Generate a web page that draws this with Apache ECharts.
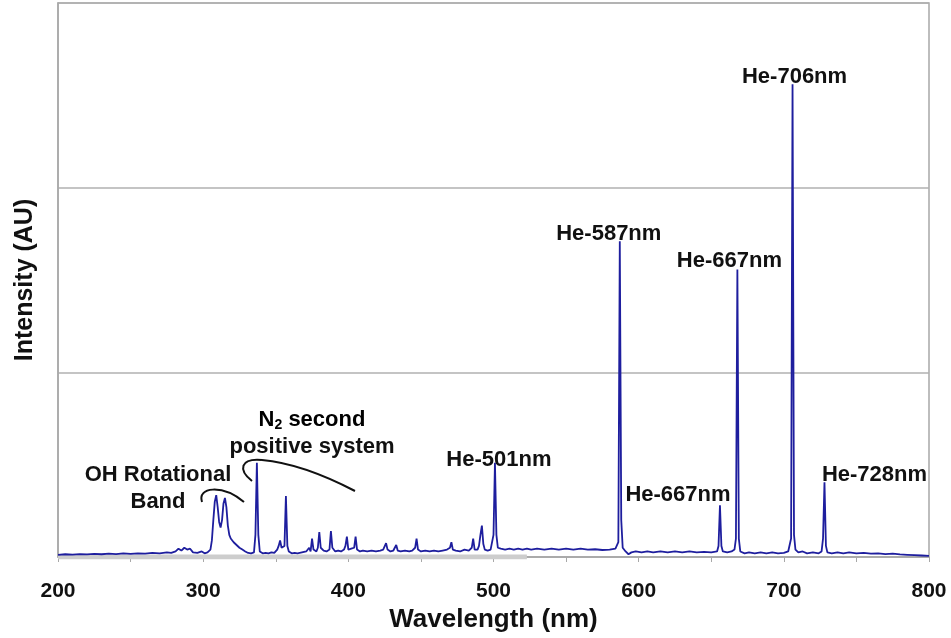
<!DOCTYPE html>
<html>
<head>
<meta charset="utf-8">
<script src="https://cdn.jsdelivr.net/npm/echarts/dist/echarts.min.js"></script>
<style>
html,body{margin:0;padding:0;background:#fff;}
#main{width:951px;height:638px;}
</style>
</head>
<body>
<div id="main"></div>
<script>
// spectrum (intensity: 1 = one grid band)
var wavelength = [200,205,210,215,220,225,230,235,240,245,250,255,260,265,270,275,278,281,283,285,287,289,291,293,296,299,301,303,305,
  306,307,308,309,310,311,312,313,314,315,316,317,318,319,321,323,325,327,329,331,333,335,336,337,338,339,341,343,345,347,349,
  351,352,353,354,355,356,357,358,359,361,363,365,368,371,373,374,375,376,378,379,380,381,383,385,387,388,389,391,393,395,397,
  398,399,400,401,402,403,404,405,406,408,410,413,416,419,422,424,426,427,429,431,433,434,436,439,442,444,446,447,448,450,453,
  456,459,462,465,468,470,471,472,474,477,480,483,485,486,487,489,490,491,492,493,494,496,498,500,501,502,503,505,508,511,514,
  517,520,523,526,530,535,540,545,550,555,560,565,570,575,580,584,586,587,588,589,591,593,595,598,602,606,610,615,620,625,630,
  635,640,645,650,654,655,656,657,658,661,664,666,667,668,669,670,673,676,680,684,688,692,696,700,703,705,706,707,708,710,713,
  716,720,724,726,727,728,729,730,733,737,741,745,750,755,760,765,770,775,780,785,790,795,800];
var intensity = [0.012,0.015,0.013,0.016,0.014,0.017,0.015,0.018,0.016,0.02,0.017,0.02,0.018,0.022,0.02,0.025,0.022,0.03,0.045,0.035,0.05,0.04,0.045,0.025,0.022,0.03,0.02,0.025,0.04,
  0.09,0.2,0.3,0.335,0.27,0.19,0.16,0.2,0.29,0.32,0.27,0.17,0.12,0.1,0.08,0.065,0.05,0.04,0.03,0.022,0.02,0.025,0.12,0.51,0.12,0.03,0.02,0.022,0.02,0.025,0.022,
  0.04,0.06,0.09,0.05,0.04,0.06,0.33,0.06,0.03,0.02,0.022,0.02,0.025,0.03,0.05,0.03,0.1,0.04,0.03,0.05,0.135,0.05,0.035,0.03,0.04,0.14,0.05,0.03,0.035,0.03,0.04,
  0.06,0.11,0.04,0.03,0.045,0.035,0.05,0.11,0.04,0.03,0.035,0.03,0.035,0.03,0.035,0.04,0.075,0.04,0.03,0.035,0.065,0.035,0.03,0.035,0.03,0.035,0.05,0.1,0.04,0.03,0.035,
  0.03,0.035,0.03,0.035,0.04,0.05,0.08,0.04,0.035,0.03,0.04,0.035,0.05,0.1,0.04,0.04,0.06,0.12,0.17,0.07,0.04,0.035,0.04,0.12,0.51,0.12,0.05,0.045,0.04,0.045,0.04,
  0.045,0.04,0.045,0.04,0.045,0.04,0.045,0.04,0.045,0.04,0.045,0.04,0.042,0.038,0.04,0.045,0.08,1.71,0.2,0.05,0.03,0.015,0.025,0.03,0.025,0.03,0.025,0.03,0.025,0.03,0.025,
  0.03,0.025,0.028,0.025,0.03,0.06,0.28,0.06,0.03,0.025,0.03,0.04,0.1,1.557,0.1,0.03,0.02,0.025,0.02,0.025,0.02,0.025,0.02,0.022,0.03,0.1,2.56,0.12,0.04,0.025,0.03,
  0.02,0.025,0.02,0.03,0.1,0.405,0.06,0.025,0.02,0.025,0.02,0.025,0.02,0.022,0.018,0.02,0.016,0.018,0.014,0.012,0.01,0.008,0.006];

// gray band under the start of the trace
var bandRange = [200, 523];

// peak labels
var peakNames = ['He-706nm','He-587nm','He-667nm','He-501nm','He-667nm','He-728nm'];
var peakX = [706, 587, 668, 501, 656, 728];
var peakY = [2.56, 1.71, 1.557, 0.51, 0.28, 0.405];
var peakOffset = [[2,4],[-11,4],[-8,2],[4,8],[-42,1],[50,4]];

var xTicks = [200, 300, 400, 500, 600, 700, 800];

var FONT = '"Liberation Sans", Arial, sans-serif';

var spectrum = [];
for (var i = 0; i < wavelength.length; i++) spectrum.push([wavelength[i], intensity[i]]);

var peakMarks = [];
for (var k = 0; k < peakNames.length; k++) {
  peakMarks.push({
    name: peakNames[k],
    coord: [peakX[k], peakY[k]],
    label: {offset: peakOffset[k]}
  });
}

var myChart = echarts.init(document.getElementById('main'));

var option = {
  animation: false,
  backgroundColor: '#fff',
  grid: {
    left: 58, right: 22, top: 3, bottom: 81,
    show: true, borderColor: '#a8a8a8', borderWidth: 1.5
  },
  xAxis: {
    type: 'value',
    min: xTicks[0], max: xTicks[xTicks.length - 1], interval: 100,
    name: 'Wavelength (nm)',
    nameLocation: 'middle',
    nameGap: 49,
    nameTextStyle: {fontFamily: FONT, fontWeight: 'bold', fontSize: 26, color: '#111'},
    axisLine: {lineStyle: {color: '#a8a8a8', width: 1.5}},
    axisTick: {show: true, length: 5, lineStyle: {color: '#a8a8a8'}},
    minorTick: {show: true, splitNumber: 2, length: 5, lineStyle: {color: '#a8a8a8'}},
    axisLabel: {fontFamily: FONT, fontWeight: 'bold', fontSize: 21, color: '#111', margin: 24},
    splitLine: {show: false}
  },
  yAxis: {
    type: 'value',
    min: 0, max: 3, interval: 1,
    name: 'Intensity (AU)',
    nameLocation: 'middle',
    nameGap: 20,
    nameTextStyle: {fontFamily: FONT, fontWeight: 'bold', fontSize: 25, color: '#111'},
    axisLine: {show: true, lineStyle: {color: '#a8a8a8', width: 1.5}},
    axisTick: {show: false},
    axisLabel: {show: false},
    splitLine: {show: true, lineStyle: {color: '#b0b0b0', width: 1.5}}
  },
  series: [
    {
      name: 'band',
      type: 'line',
      data: [[bandRange[0], 0], [bandRange[1], 0]],
      showSymbol: false,
      silent: true,
      z: 1,
      lineStyle: {color: '#cdcdcd', width: 5}
    },
    {
      name: 'spectrum',
      type: 'line',
      data: spectrum,
      showSymbol: false,
      z: 3,
      lineStyle: {color: '#1e1e9e', width: 1.8},
      markPoint: {
        symbol: 'circle',
        symbolSize: 0,
        silent: true,
        label: {
          show: true,
          position: 'top',
          distance: 0,
          formatter: '{b}',
          fontFamily: FONT,
          fontWeight: 'bold',
          fontSize: 22,
          color: '#111'
        },
        data: peakMarks
      }
    }
  ],
  graphic: [
    {type: 'text', x: 158, y: 475,
      style: {text: 'OH Rotational', font: 'bold 22px ' + FONT, fill: '#111', textAlign: 'center', textVerticalAlign: 'middle'}},
    {type: 'text', x: 158, y: 502,
      style: {text: 'Band', font: 'bold 22px ' + FONT, fill: '#111', textAlign: 'center', textVerticalAlign: 'middle'}},
    {type: 'text', x: 312, y: 420,
      style: {
        text: '{n|N}{s|2}{n| second}',
        textAlign: 'center', textVerticalAlign: 'middle',
        rich: {
          n: {fontFamily: FONT, fontWeight: 'bold', fontSize: 22, color: '#111'},
          s: {fontFamily: FONT, fontWeight: 'bold', fontSize: 14, color: '#111', padding: [10, 0, 0, 0]}
        }
      }},
    {type: 'text', x: 312, y: 447,
      style: {text: 'positive system', font: 'bold 22px ' + FONT, fill: '#111', textAlign: 'center', textVerticalAlign: 'middle'}},
    {type: 'bezierCurve', z: 10,
      shape: {x1: 202, y1: 502, cpx1: 197, cpy1: 487, cpx2: 222, cpy2: 484, x2: 244, y2: 502},
      style: {stroke: '#111', lineWidth: 2, fill: null}},
    {type: 'bezierCurve', z: 10,
      shape: {x1: 252, y1: 481, cpx1: 238, cpy1: 470, cpx2: 240, cpy2: 458, x2: 262, y2: 460},
      style: {stroke: '#111', lineWidth: 2, fill: null}},
    {type: 'bezierCurve', z: 10,
      shape: {x1: 262, y1: 460, cpx1: 295, cpy1: 463, cpx2: 330, cpy2: 478, x2: 355, y2: 491},
      style: {stroke: '#111', lineWidth: 2, fill: null}}
  ]
};

myChart.setOption(option);
window.addEventListener('resize', function () { myChart.resize(); });
</script>
</body>
</html>
